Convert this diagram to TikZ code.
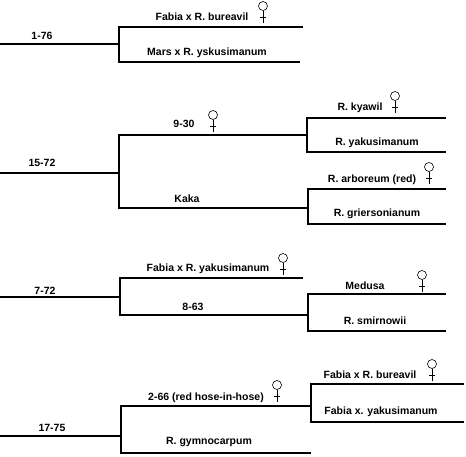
\documentclass[tikz,border=0pt]{standalone}
\usepackage{fontspec}
\setmainfont{Liberation Sans}
\usepackage{tikz}
\tikzset{
  br/.style={line width=1.4pt,line cap=rect},
  lbl/.style={font=\bfseries\fontsize{10.5}{12}\selectfont,inner sep=1pt},
  fem/.pic={
    \draw[line width=0.6pt] (0,0) circle (4.5);
    \draw[line width=0.6pt] (0,4.5) -- (0,17);
    \draw[line width=0.6pt] (-3,11) -- (3,11);
  },
}
\begin{document}
\begin{tikzpicture}[x=1pt,y=-1pt]
  \useasboundingbox (0,0) rectangle (466,456);
  % cross 1
  \coordinate (a0) at (0,44);
  \coordinate (a1) at (119,44);
  \coordinate (a1t) at (119,27);   \coordinate (a1te) at (302,27);
  \coordinate (a1b) at (119,62);   \coordinate (a1be) at (299,62);
  \draw[br] (a0) -- (a1);
  \draw[br] (a1te) -- (a1t) -- (a1b) -- (a1be);
  \node[lbl] (n176) at (42,36) {1-76};
  \node[lbl] (nfab1) at (202,17) {Fabia x R. bureavil};
  \node[lbl] (nmars) at (207,53) {Mars x R. yskusimanum};
  \pic (f1) at (263,6) {fem};
  % cross 2
  \coordinate (b0) at (0,173);
  \coordinate (b1) at (119,173);
  \coordinate (b1t) at (119,135);  \coordinate (b2) at (307,135);
  \coordinate (b1b) at (119,208);  \coordinate (b3) at (307,208);
  \coordinate (b2t) at (307,118);  \coordinate (b2te) at (445,118);
  \coordinate (b2b) at (307,152);  \coordinate (b2be) at (445,152);
  \coordinate (b3t) at (308,189);  \coordinate (b3te) at (445,189);
  \coordinate (b3b) at (308,224);  \coordinate (b3be) at (445,224);
  \draw[br] (b0) -- (b1);
  \draw[br] (b2) -- (b1t) -- (b1b) -- (b3);
  \draw[br] (b2te) -- (b2t) -- (b2b) -- (b2be);
  \draw[br] (b3te) -- (b3t) -- (b3b) -- (b3be);
  \node[lbl] (n1572) at (42,163) {15-72};
  \node[lbl] (n930) at (184,124) {9-30};
  \node[lbl] (nkaka) at (187,199) {Kaka};
  \node[lbl] (nkya) at (360,108) {R. kyawil};
  \node[lbl] (nyak1) at (377,143) {R. yakusimanum};
  \node[lbl] (narb) at (372,180) {R. arboreum (red)};
  \node[lbl] (ngri) at (377,214) {R. griersonianum};
  \pic (f2) at (213,115) {fem};
  \pic (f3) at (395,96) {fem};
  \pic (f4) at (429,167) {fem};
  % cross 3
  \coordinate (c0) at (0,297);
  \coordinate (c1) at (120,297);
  \coordinate (c1t) at (120,278);  \coordinate (c1te) at (302,278);
  \coordinate (c1b) at (120,315);  \coordinate (c2) at (308,315);
  \coordinate (c2t) at (308,294);  \coordinate (c2te) at (445,294);
  \coordinate (c2b) at (308,331);  \coordinate (c2be) at (445,331);
  \draw[br] (c0) -- (c1);
  \draw[br] (c1te) -- (c1t) -- (c1b) -- (c2);
  \draw[br] (c2te) -- (c2t) -- (c2b) -- (c2be);
  \node[lbl] (n772) at (45,291) {7-72};
  \node[lbl] (nfab2) at (208,269) {Fabia x R. yakusimanum};
  \node[lbl] (n863) at (193,307) {8-63};
  \node[lbl] (nmed) at (365,286) {Medusa};
  \node[lbl] (nsmi) at (375,321) {R. smirnowii};
  \pic (f5) at (283,258) {fem};
  \pic (f6) at (422,275) {fem};
  % cross 4
  \coordinate (d0) at (0,436);
  \coordinate (d1) at (121,436);
  \coordinate (d1t) at (121,406);  \coordinate (d2) at (311,406);
  \coordinate (d1b) at (121,453);  \coordinate (d1be) at (310,453);
  \coordinate (d2t) at (311,384);  \coordinate (d2te) at (463,384);
  \coordinate (d2b) at (311,422);  \coordinate (d2be) at (463,422);
  \draw[br] (d0) -- (d1);
  \draw[br] (d2) -- (d1t) -- (d1b) -- (d1be);
  \draw[br] (d2te) -- (d2t) -- (d2b) -- (d2be);
  \node[lbl] (n1775) at (52,428) {17-75};
  \node[lbl] (nhose) at (206,398) {2-66 (red hose-in-hose)};
  \node[lbl] (ngym) at (209,442) {R. gymnocarpum};
  \node[lbl] (nfab3) at (370,375) {Fabia x R. bureavil};
  \node[lbl] (nfab4) at (381,412) {Fabia x. yakusimanum};
  \pic (f7) at (277,385) {fem};
  \pic (f8) at (432,364) {fem};
\end{tikzpicture}
\end{document}
